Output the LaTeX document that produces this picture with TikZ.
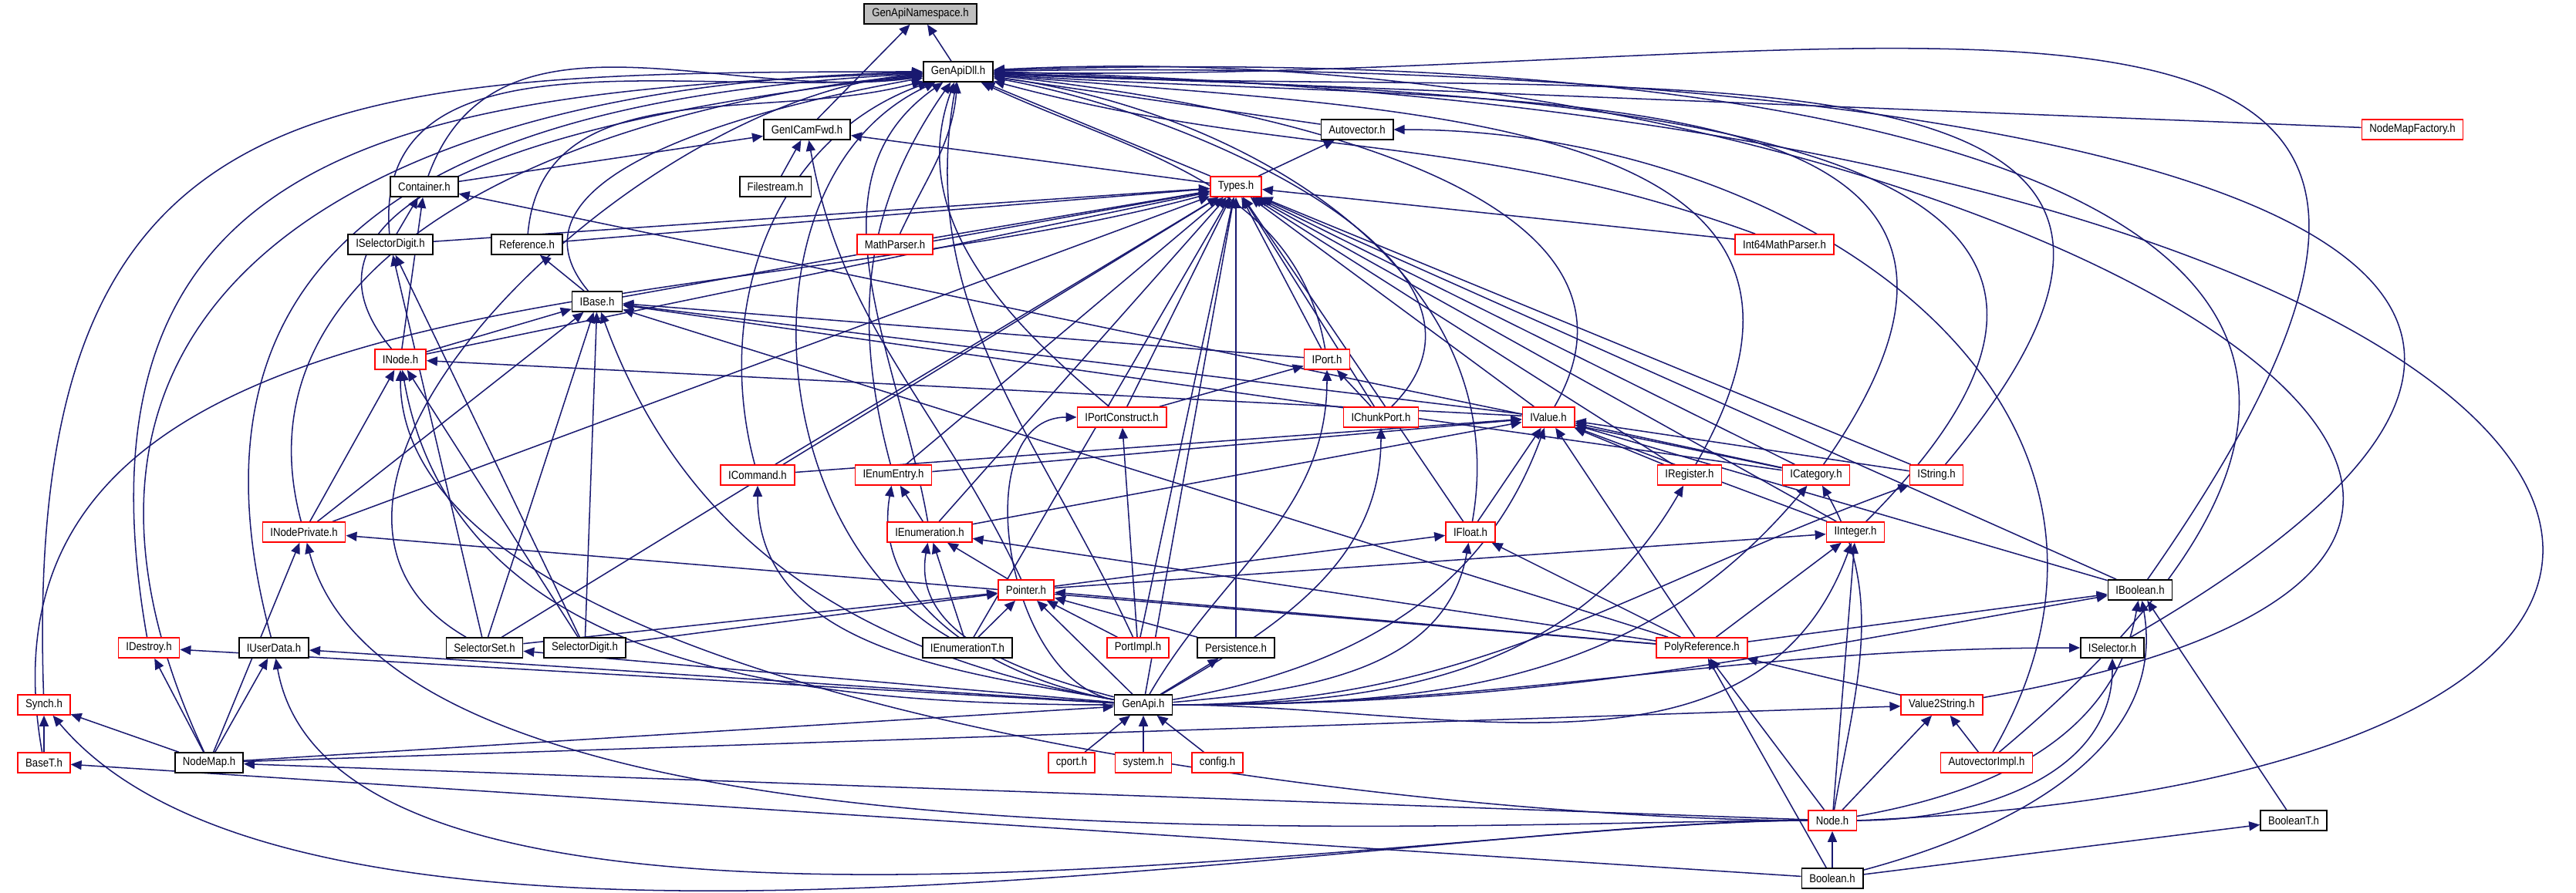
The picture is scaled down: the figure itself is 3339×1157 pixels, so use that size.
\documentclass[tikz,border=0pt]{standalone}
\usepackage{fontspec}
\setmainfont{Liberation Sans}[FakeStretch=0.88]
\usetikzlibrary{arrows.meta, backgrounds}
\definecolor{edgeblue}{RGB}{25,25,112}
\definecolor{boxred}{RGB}{255,0,0}
\definecolor{focusgray}{RGB}{191,191,191}

\tikzset{
	file/.style={draw=black, fill=white, line width=0.4pt, minimum height=6.5pt,
		inner xsep=2.5pt, inner ysep=0pt, font=\fontsize{3.75}{4.5}\selectfont},
	redfile/.style={file, draw=boxred},
	focusfile/.style={file, fill=focusgray},
	inc/.style={draw=edgeblue, line width=0.38pt, -{Triangle[length=3.5pt,width=3pt]}}
}

\begin{document}
\begin{tikzpicture}[x=0.25pt,y=-0.25pt]
	\useasboundingbox (0,0) rectangle (3339,1157);
	% files, one rank per row
	\node[focusfile] (ns) at (1193,18) {GenApiNamespace.h};
	\node[file] (dll) at (1242,93) {GenApiDll.h};
	\node[file] (fwd) at (1046,168) {GenICamFwd.h};
	\node[file] (autovec) at (1759,168) {Autovector.h};
	\node[redfile] (nmf) at (3127,168) {NodeMapFactory.h};
	\node[file] (cont) at (550,242) {Container.h};
	\node[file] (fstream) at (1005,242) {Filestream.h};
	\node[redfile] (types) at (1602,242) {Types.h};
	\node[file] (isd) at (506,317) {ISelectorDigit.h};
	\node[file] (ref) at (683,317) {Reference.h};
	\node[redfile] (mparser) at (1160,317) {MathParser.h};
	\node[redfile] (i64) at (2313,317) {Int64MathParser.h};
	\node[file] (ibase) at (774,391) {IBase.h};
	\node[redfile] (inode) at (519,466) {INode.h};
	\node[redfile] (iport) at (1720,466) {IPort.h};
	\node[redfile] (iportc) at (1454,541) {IPortConstruct.h};
	\node[redfile] (ichunk) at (1790,541) {IChunkPort.h};
	\node[redfile] (ivalue) at (2007,541) {IValue.h};
	\node[redfile] (icmd) at (982,616) {ICommand.h};
	\node[redfile] (ientry) at (1158,616) {IEnumEntry.h};
	\node[redfile] (ireg) at (2190,616) {IRegister.h};
	\node[redfile] (icat) at (2354,616) {ICategory.h};
	\node[redfile] (istr) at (2510,616) {IString.h};
	\node[redfile] (inp) at (394,690) {INodePrivate.h};
	\node[redfile] (ienum) at (1205,690) {IEnumeration.h};
	\node[redfile] (ifloat) at (1906,690) {IFloat.h};
	\node[redfile] (iint) at (2405,690) {IInteger.h};
	\node[redfile] (ptr) at (1330,765) {Pointer.h};
	\node[file] (ibool) at (2774,765) {IBoolean.h};
	\node[redfile] (idestroy) at (193,840) {IDestroy.h};
	\node[file] (iud) at (355,840) {IUserData.h};
	\node[file] (sset) at (628,840) {SelectorSet.h};
	\node[file] (sdig) at (758,840) {SelectorDigit.h};
	\node[file] (ienumt) at (1254,840) {IEnumerationT.h};
	\node[redfile] (pimpl) at (1475,840) {PortImpl.h};
	\node[file] (persist) at (1602,840) {Persistence.h};
	\node[redfile] (polyref) at (2206,840) {PolyReference.h};
	\node[file] (isel) at (2738,840) {ISelector.h};
	\node[redfile] (synch) at (57,914) {Synch.h};
	\node[file] (genapi) at (1482,914) {GenApi.h};
	\node[redfile] (v2s) at (2517,914) {Value2String.h};
	\node[redfile] (baset) at (57,989) {BaseT.h};
	\node[file] (nodemap) at (271,989) {NodeMap.h};
	\node[redfile] (cport) at (1389,989) {cport.h};
	\node[redfile] (sysh) at (1482,989) {system.h};
	\node[redfile] (cfg) at (1578,989) {config.h};
	\node[redfile] (aimpl) at (2575,989) {AutovectorImpl.h};
	\node[redfile] (nodeh) at (2375,1064) {Node.h};
	\node[file] (boolt) at (2973,1064) {BooleanT.h};
	\node[file] (boolh) at (2375,1139) {Boolean.h};

	\begin{scope}[on background layer]
		% top of the tree
		\draw[inc] (dll) -- (ns);
		\draw[inc] (fwd) -- (ns);
		\foreach \c in {cont,fstream,types} \draw[inc] (\c) -- (fwd);
		\draw[inc] (ptr) to[out=115,in=-80] (fwd);
		% GenApiDll.h, from the left and from the right
		\foreach \c/\o/\i/\l in {synch/92/180/1.45, nodemap/115/181/1.35, idestroy/100/182/1.35,
			iud/105/183/1.3, sset/150/184/1, inp/105/185/1, inode/130/186/1, isd/95/187/1,
			cont/70/188/1, ibase/130/190/1, ref/85/195/1, icmd/105/200/1, ienumt/150/205/1,
			ienum/100/215/1, ientry/105/235/1, iportc/140/250/1, pimpl/115/260/1, mparser/65/265/1}
			\draw[inc] (\c) to[out=\o,in=\i,looseness=\l] (dll);
		\foreach \c in {types,autovec,nmf} \draw[inc] (\c) -- (dll);
		\foreach \c/\o/\i/\l in {i64/160/-15/1, iport/100/-25/1, ichunk/45/-10/1, ivalue/60/-6/1,
			ifloat/80/-8/1, ireg/60/-5/1.3, icat/55/-4/1.4, istr/50/-3/1.5, iint/45/-2/1.5,
			ibool/55/-1/1.8, isel/30/1/1.8, aimpl/40/2/1.8, v2s/10/3/2}
			\draw[inc] (\c) to[out=\o,in=\i,looseness=\l] (dll);
		\draw[inc] (nodeh.east) .. controls (3900,1000) and (3500,150) .. (dll.east);
		% Types.h
		\foreach \c in {isd,ref,mparser,i64,ibase,inode,inp,iport,iportc,ichunk,ivalue,icmd,
			ientry,ireg,icat,istr,ienum,ifloat,iint,ibool,sset,ienumt,pimpl,persist,genapi}
			\draw[inc] (\c) -- (types);
		\draw[inc] (baset) to[out=100,in=195] (types);
		\draw[inc] (types) -- (autovec);
		\draw[inc] (aimpl) to[out=60,in=0,looseness=1.2] (autovec);
		% interfaces
		\foreach \c in {isd,inode} \draw[inc] (\c) -- (cont);
		\draw[inc] (icat) -- (cont);
		\draw[inc] (ibase) -- (ref);
		\foreach \c in {sset,sdig} \draw[inc] (\c) -- (isd);
		\foreach \c in {inode,inp,iport,ivalue,icat,polyref,sset,sdig} \draw[inc] (\c) -- (ibase);
		\draw[inc] (genapi) to[out=170,in=-70] (ibase);
		\foreach \c in {ivalue,inp,sdig} \draw[inc] (\c) -- (inode);
		\draw[inc] (genapi) to[out=180,in=-80] (inode);
		\draw[inc] (nodeh) to[out=180,in=-90,looseness=0.6] (inode);
		\foreach \c in {iportc,ichunk} \draw[inc] (\c) -- (iport);
		\draw[inc] (genapi) to[out=60,in=-90] (iport);
		\draw[inc] (pimpl) -- (iportc);
		\draw[inc] (genapi) to[out=170,in=180] (iportc);
		\draw[inc] (genapi) to[out=30,in=-90] (ichunk);
		\foreach \c in {icmd,ientry,ienum,ifloat,ireg,icat,istr,iint,ibool,polyref} \draw[inc] (\c) -- (ivalue);
		\draw[inc] (genapi) to[out=10,in=-110] (ivalue);
		\draw[inc] (ienum) -- (ientry);
		\draw[inc] (genapi) to[out=170,in=-100] (ientry);
		\draw[inc] (genapi) to[out=170,in=-90] (icmd);
		\draw[inc] (genapi) to[out=0,in=-120] (ireg);
		\draw[inc] (genapi) to[out=0,in=-130] (icat);
		\draw[inc] (nodeh) to[out=80,in=-60] (icat);
		\draw[inc] (genapi) to[out=0,in=200] (istr);
		\foreach \c in {nodemap,polyref} \draw[inc] (\c) -- (inp);
		\draw[inc] (nodeh) to[out=180,in=-75,looseness=0.6] (inp);
		\foreach \c in {ptr,ienumt,polyref} \draw[inc] (\c) -- (ienum);
		\draw[inc] (genapi) to[out=165,in=-100] (ienum);
		\foreach \c in {ptr,polyref} \draw[inc] (\c) -- (ifloat);
		\draw[inc] (genapi) to[out=5,in=-100] (ifloat);
		\foreach \c in {ptr,polyref,nodeh} \draw[inc] (\c) -- (iint);
		\draw[inc] (genapi) to[out=0,in=-110] (iint);
		\foreach \c in {ienumt,pimpl,genapi,persist,polyref,sset,sdig} \draw[inc] (\c) -- (ptr);
		\foreach \c in {polyref,boolt} \draw[inc] (\c) -- (ibool);
		\draw[inc] (genapi) to[out=0,in=190] (ibool);
		\draw[inc] (nodeh) to[out=10,in=-100] (ibool);
		\draw[inc] (boolh) to[out=15,in=-80] (ibool);
		% implementation files
		\foreach \c in {nodemap,genapi} \draw[inc] (\c) -- (idestroy);
		\foreach \c in {nodemap,genapi} \draw[inc] (\c) -- (iud);
		\draw[inc] (nodeh) to[out=180,in=-80,looseness=0.6] (iud);
		\draw[inc] (genapi) -- (sset);
		\draw[inc] (genapi) -- (persist);
		\foreach \c in {nodeh,boolh,v2s} \draw[inc] (\c) -- (polyref);
		\draw[inc] (genapi) to[out=0,in=180] (isel);
		\draw[inc] (nodeh) to[out=0,in=-90] (isel);
		\foreach \c in {baset,nodemap} \draw[inc] (\c) -- (synch);
		\draw[inc] (nodeh) to[out=180,in=-50,looseness=0.6] (synch);
		\foreach \c in {nodemap,cport,sysh,cfg} \draw[inc] (\c) -- (genapi);
		\foreach \c in {nodemap,nodeh,aimpl} \draw[inc] (\c) -- (v2s);
		\draw[inc] (boolh) -- (baset);
		\draw[inc] (nodeh) -- (nodemap);
		\draw[inc] (boolh) -- (nodeh);
		\draw[inc] (boolh) -- (boolt);
	\end{scope}
\end{tikzpicture}
\end{document}
